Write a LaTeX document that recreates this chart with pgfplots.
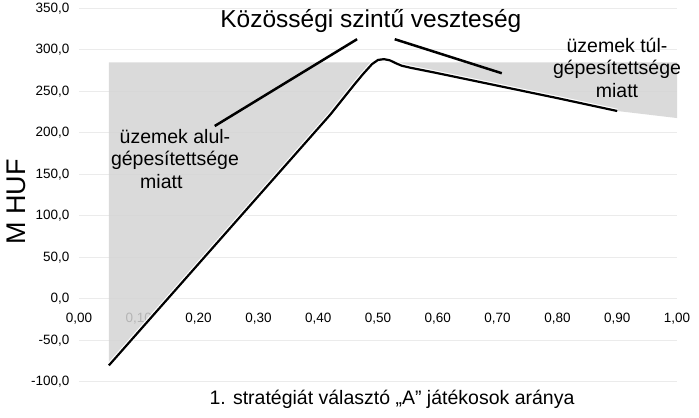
\documentclass[border=0pt]{standalone}
\usepackage{pgfplots}
\pgfplotsset{compat=1.18}
\usepackage{fontspec}
\setmainfont{Liberation Sans}

% loss curve
\pgfplotstableread{
x     y
0.05  -80
0.42  222
0.46  258
0.475 271
0.49  283
0.50  288
0.51  289
0.52  287.5
0.53  284
0.54  281
0.555 278.5
0.60  272
0.70  257
0.80  242
0.90  226.5
}\curve

\begin{document}
\begin{tikzpicture}
\begin{axis}[
    name=ax,
    scale only axis,
    width=598pt, height=373.5pt,
    xmin=0, xmax=1, ymin=-100, ymax=350,
    axis x line=middle, axis y line=left,
    axis line style={draw=none,-},
    hide obscured x ticks=false,
    hide obscured y ticks=false,
    major tick length=0pt,
    xtick={0,0.1,...,1.01},
    ytick={-100,-50,...,350},
    scaled ticks=false,
    ymajorgrids,
    grid style={black!8, line width=1pt},
    ticklabel style={font=\fontsize{13.5}{16}\selectfont},
    /pgf/number format/assume math mode=true,
    xticklabel style={anchor=north, yshift=-11pt,
        /pgf/number format/fixed, /pgf/number format/fixed zerofill,
        /pgf/number format/precision=2, /pgf/number format/use comma},
    yticklabel style={anchor=east, xshift=-6pt,
        /pgf/number format/fixed, /pgf/number format/fixed zerofill,
        /pgf/number format/precision=1, /pgf/number format/use comma},
    every axis x label/.style={at={(rel axis cs:0.5,0)}, anchor=base, yshift=-23pt, xshift=14pt,
        font=\fontsize{19.5}{23}\selectfont},
    every axis y label/.style={at={([xshift=-63pt]rel axis cs:0,0.482)}, rotate=90, anchor=center,
        font=\fontsize{27}{30}\selectfont},
    xlabel={1. stratégiát választó „A” játékosok aránya},
    ylabel={M HUF},
    clip=false,
]
% shaded loss area
\addplot[fill=black!17, fill opacity=0.85, draw=none] coordinates {
    (0.05,285) (1.0,285) (1.0,218) (0.90,226.5) (0.80,242) (0.70,257)
    (0.60,272) (0.555,278.5) (0.54,281) (0.53,284) (0.525,285) (0.488,285)
    (0.475,271) (0.46,258) (0.42,222) (0.05,-80)
} --cycle;

% curve with white halo
\addplot[white, line width=4.5pt] table {\curve};
\addplot[black, line width=2.2pt] table {\curve};

% callout lines
\addplot[black, line width=2.5pt] coordinates {(0.227,208.4) (0.465,313)};
\addplot[black, line width=2.5pt] coordinates {(0.528,313) (0.707,272)};

\node[anchor=base, font=\fontsize{24.5}{28}\selectfont] at (axis cs:0.488,327.7)
    {Közösségi szintű veszteség};
\node[align=center, font=\fontsize{19.5}{22.5}\selectfont] at (axis cs:0.1605,168.7)
    {üzemek alul-\\gépesítettsége\\miatt\hspace*{1.4em}};
\node[align=center, font=\fontsize{19.5}{22.5}\selectfont] at (axis cs:0.8997,279)
    {üzemek túl-\\gépesítettsége\\miatt};
\end{axis}
\pgfresetboundingbox
\useasboundingbox ([xshift=-79pt,yshift=-36pt]ax.south west) rectangle ([xshift=22pt,yshift=8.5pt]ax.north east);
\end{tikzpicture}
\end{document}
